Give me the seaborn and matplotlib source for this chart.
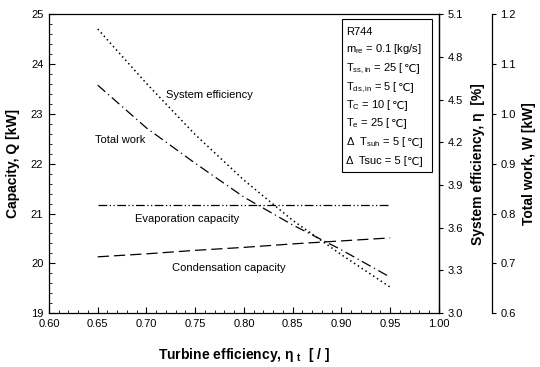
import numpy as np
import pandas as pd
import matplotlib
matplotlib.use("Agg")
import matplotlib.pyplot as plt
from matplotlib.ticker import MultipleLocator, FormatStrFormatter
from matplotlib.patches import Rectangle
import seaborn as sns

# ---- data ----
turbine_eff = [0.65, 0.70, 0.75, 0.80, 0.85, 0.90, 0.95]
system_eff = [4.998, 4.615, 4.255, 3.935, 3.652, 3.410, 3.182]      # [%]
total_work = [1.058, 0.972, 0.901, 0.833, 0.777, 0.727, 0.672]      # [kW]
evap_cap = [21.17, 21.17, 21.17, 21.17, 21.17, 21.17, 21.17]        # [kW]
cond_cap = [20.13, 20.19, 20.26, 20.32, 20.39, 20.45, 20.51]        # [kW]

x_ticks = [0.60, 0.65, 0.70, 0.75, 0.80, 0.85, 0.90, 0.95, 1.00]
q_ticks = [19, 20, 21, 22, 23, 24, 25]
eta_ticks = [3.0, 3.3, 3.6, 3.9, 4.2, 4.5, 4.8, 5.1]
w_ticks = [0.6, 0.7, 0.8, 0.9, 1.0, 1.1, 1.2]

df = pd.DataFrame({"x": turbine_eff, "eta": system_eff, "W": total_work,
                   "Qe": evap_cap, "Qc": cond_cap})

sns.set_style("white")
plt.rcParams["font.family"] = ["Liberation Sans", "DejaVu Sans"]
plt.rcParams["mathtext.fontset"] = "custom"
plt.rcParams["mathtext.rm"] = "Liberation Sans"
plt.rcParams["mathtext.it"] = "Liberation Sans:italic"
plt.rcParams["mathtext.bf"] = "Liberation Sans:bold"
for key in ("text.color", "axes.labelcolor", "xtick.color", "ytick.color",
            "axes.edgecolor"):
    plt.rcParams[key] = "black"

fig = plt.figure(figsize=(5.4, 3.67), dpi=100)
ax = fig.add_axes([0.0907, 0.147, 0.7222, 0.8135])
ax2 = ax.twinx()
ax3 = ax.twinx()
ax3.spines["right"].set_position(("axes", 1.136))

lw = 0.9
sns.lineplot(data=df, x="x", y="Qe", ax=ax, color="black", lw=lw,
             linestyle=(0, (7, 2, 1, 2, 1, 2)))
sns.lineplot(data=df, x="x", y="Qc", ax=ax, color="black", lw=lw,
             linestyle=(0, (9, 4)))
sns.lineplot(data=df, x="x", y="eta", ax=ax2, color="black", lw=1.1,
             linestyle=(0, (1, 2)))
sns.lineplot(data=df, x="x", y="W", ax=ax3, color="black", lw=lw,
             linestyle=(0, (8, 3, 1, 3)))

# ---- axes limits & ticks ----
ax.set_xlim(0.60, 1.00)
ax.set_ylim(19, 25)
ax2.set_ylim(3.0, 5.1)
ax3.set_ylim(0.6, 1.2)

ax.set_xticks(x_ticks)
ax.xaxis.set_major_formatter(FormatStrFormatter("%.2f"))
ax.xaxis.set_minor_locator(MultipleLocator(0.01))
ax.set_yticks(q_ticks)
ax.yaxis.set_minor_locator(MultipleLocator(0.2))
ax2.set_yticks(eta_ticks)
ax2.yaxis.set_major_formatter(FormatStrFormatter("%.1f"))
ax3.set_yticks(w_ticks)
ax3.yaxis.set_major_formatter(FormatStrFormatter("%.1f"))

tick_fs = 8
ax.tick_params(axis="x", which="major", direction="in", length=4, width=0.8,
               labelsize=tick_fs, pad=4, bottom=True, top=False)
ax.tick_params(axis="x", which="minor", direction="in", length=2, width=0.6,
               bottom=True, top=False)
ax.tick_params(axis="y", which="major", direction="in", length=4, width=0.8,
               labelsize=tick_fs, pad=4, left=True, right=False)
ax.tick_params(axis="y", which="minor", direction="in", length=2, width=0.6,
               left=True, right=False)
for a in (ax2, ax3):
    a.tick_params(axis="y", which="major", direction="out", length=3, width=0.8,
                  labelsize=tick_fs, pad=3, right=True, left=False)

for s in ax.spines.values():
    s.set_linewidth(0.9)
    s.set_color("black")
for a in (ax2, ax3):
    for k, s in a.spines.items():
        s.set_visible(k == "right")
        s.set_linewidth(0.9)
        s.set_color("black")

# ---- axis labels ----
lab_fs = 10
ax.set_xlabel("Turbine efficiency, η $_{\\mathbf{t}}$  [ / ]", fontsize=lab_fs,
              fontweight="bold")
ax.xaxis.set_label_coords(0.5, -0.11)
ax.set_ylabel("Capacity, Q [kW]", fontsize=lab_fs, fontweight="bold")
ax.yaxis.set_label_coords(-0.074, 0.5)
ax2.set_ylabel("System efficiency, η  [%]", fontsize=lab_fs, fontweight="bold",
               rotation=90)
ax2.yaxis.set_label_coords(1.082, 0.5)
ax3.set_ylabel("Total work, W [kW]", fontsize=lab_fs, fontweight="bold",
               rotation=90)
ax3.yaxis.set_label_coords(1.213, 0.5)

# ---- curve labels ----
txt_fs = 8
ax.text(0.30, 0.730, "System efficiency", transform=ax.transAxes,
        fontsize=txt_fs, va="center", ha="left")
ax.text(0.118, 0.580, "Total work", transform=ax.transAxes,
        fontsize=txt_fs, va="center", ha="left")
ax.text(0.2205, 0.315, "Evaporation capacity", transform=ax.transAxes,
        fontsize=txt_fs, va="center", ha="left")
ax.text(0.315, 0.151, "Condensation capacity", transform=ax.transAxes,
        fontsize=txt_fs, va="center", ha="left")

# ---- condition box ----
box = Rectangle((0.751, 0.472), 0.231, 0.513, transform=ax.transAxes,
                fill=False, edgecolor="black", lw=0.8, zorder=5)
ax.add_patch(box)
# (main part, unit part drawn with a font that has the ℃ sign)
lines = [("R744", ""),
         ("m$_{\\mathrm{re}}$ = 0.1 [kg/s]", ""),
         ("T$_{\\mathrm{ss,in}}$ = 25 [", "℃]"),
         ("T$_{\\mathrm{ds,in}}$ = 5 [", "℃]"),
         ("T$_{\\mathrm{C}}$ = 10 [", "℃]"),
         ("T$_{\\mathrm{e}}$ = 25 [", "℃]"),
         ("Δ  T$_{\\mathrm{suh}}$ = 5 [", "℃]"),
         ("Δ  Tsuc = 5 [", "℃]")]
baselines = [35, 52, 71, 90, 108, 126, 145, 164]
fig.canvas.draw()
renderer = fig.canvas.get_renderer()
inv = ax.transAxes.inverted()
for (main, unit), yb in zip(lines, baselines):
    yy = (313 - yb) / 298.5
    t = ax.text(0.762, yy, main, transform=ax.transAxes,
                fontsize=txt_fs, va="baseline", ha="left", zorder=6)
    if unit:
        bb = t.get_window_extent(renderer)
        xr = inv.transform((bb.x1, bb.y0))[0]
        ax.text(xr, yy, unit, transform=ax.transAxes, fontsize=txt_fs,
                va="baseline", ha="left", zorder=6,
                family=["DejaVu Sans"], fontweight="normal", color="black")

fig.savefig("out.png", dpi=100)
